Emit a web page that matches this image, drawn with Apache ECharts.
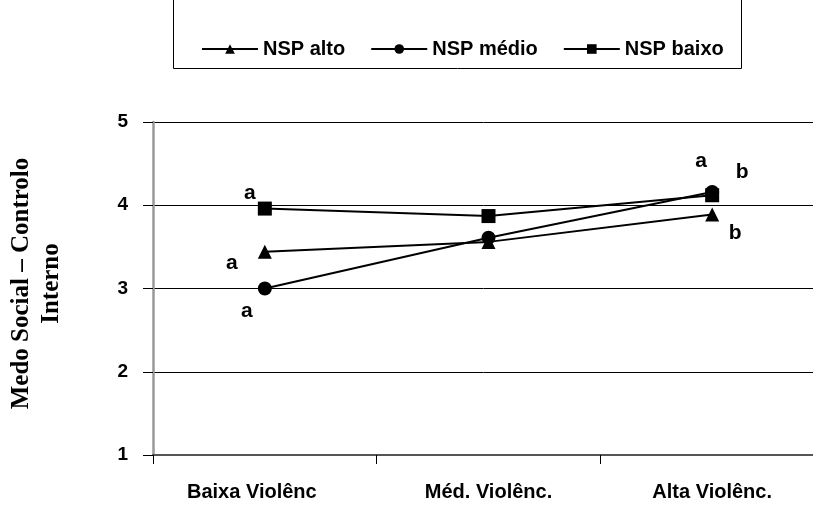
<!DOCTYPE html>
<html>
<head>
<meta charset="utf-8">
<script src="https://cdn.jsdelivr.net/npm/echarts@6/dist/echarts.min.js"></script>
<style>html,body{margin:0;padding:0;background:#fff}#c{width:813px;height:505px}</style>
</head>
<body>
<div id="c"></div>
<script>
var categories = ['Baixa Violênc', 'Méd. Violênc.', 'Alta Violênc.'];
var nspAlto = [3.44, 3.56, 3.89];
var nspMedio = [3.00, 3.61, 4.16];
var nspBaixo = [3.96, 3.87, 4.12];
var altoLetters = ['a', '', 'b'];
var medioLetters = ['a', '', 'a'];
var baixoLetters = ['a', '', 'b'];
var yTicks = [1, 2, 3, 4, 5];

var letterOffsets = {
  alto: [[-33, 11], null, [23, 19]],
  medio: [[-18, 23], null, [-11, -31]],
  baixo: [[-15, -15], null, [30, -23]]
};

function buildData(vals, letters, offs) {
  return vals.map(function (v, i) {
    var item = { value: v };
    if (letters[i]) {
      item.label = {
        show: true, formatter: letters[i], position: 'inside',
        offset: offs[i], color: '#000', fontFamily: 'Liberation Sans, Arial',
        fontWeight: 'bold', fontSize: 21
      };
    }
    return item;
  });
}

var chart = echarts.init(document.getElementById('c'), null, { renderer: 'canvas' });
var font = 'Liberation Sans, Arial, sans-serif';
var commonSeries = {
  type: 'line', color: '#000', symbolSize: 14,
  lineStyle: { color: '#000', width: 2 },
  itemStyle: { color: '#000' }, animation: false, z: 3
};
chart.setOption({
  animation: false,
  grid: { left: 153, top: 122, height: 333, width: 671, containLabel: false, outerBoundsMode: 'none' },
  graphic: [{
    type: 'rect', shape: { x: 173.5, y: -5, width: 568, height: 73.5 },
    style: { fill: 'none', stroke: '#000', lineWidth: 1 }, z: 0
  }],
  legend: {
    left: 196, top: 34, itemWidth: 56, itemHeight: 12, itemGap: 25,
    textStyle: { fontFamily: font, fontWeight: 'bold', fontSize: 20, color: '#000' },
    data: ['NSP alto', 'NSP médio', 'NSP baixo']
  },
  xAxis: {
    type: 'category', data: categories, boundaryGap: true,
    axisLine: { lineStyle: { color: '#555', width: 2 } },
    axisTick: { show: true, length: 9, lineStyle: { color: '#000', width: 1 } },
    axisLabel: { fontFamily: font, fontWeight: 'bold', fontSize: 20, color: '#000', margin: 27,
      formatter: function (v, i) { return i === 0 ? '{s|' + v + '}' : v; },
      rich: { s: { fontFamily: font, fontWeight: 'bold', fontSize: 20, color: '#000', padding: [0, 26, 0, 0] } } }
  },
  yAxis: {
    type: 'value', min: 1, max: 5, interval: 1,
    name: 'Medo Social – Controlo\nInterno', nameLocation: 'middle', nameRotate: 90, nameGap: 86,
    nameTextStyle: { fontFamily: 'Liberation Serif, Times New Roman, serif', fontWeight: 'bold', fontSize: 25, color: '#000', lineHeight: 30, padding: [0, 0, 0, 10] },
    axisLine: { show: true, lineStyle: { color: '#999', width: 2.5 } },
    axisTick: { show: true, length: 10, lineStyle: { color: '#000' } },
    axisLabel: { fontFamily: font, fontWeight: 'bold', fontSize: 19, color: '#000', margin: 25,
      formatter: function (v) { return yTicks.indexOf(v) >= 0 ? String(v) : ''; } },
    splitLine: { show: true, lineStyle: { color: '#000', width: 1 } }
  },
  series: [
    Object.assign({}, commonSeries, { name: 'NSP alto', symbol: 'triangle', data: buildData(nspAlto, altoLetters, letterOffsets.alto) }),
    Object.assign({}, commonSeries, { name: 'NSP médio', symbol: 'circle', data: buildData(nspMedio, medioLetters, letterOffsets.medio) }),
    Object.assign({}, commonSeries, { name: 'NSP baixo', symbol: 'rect', data: buildData(nspBaixo, baixoLetters, letterOffsets.baixo) })
  ]
});
</script>
</body>
</html>
